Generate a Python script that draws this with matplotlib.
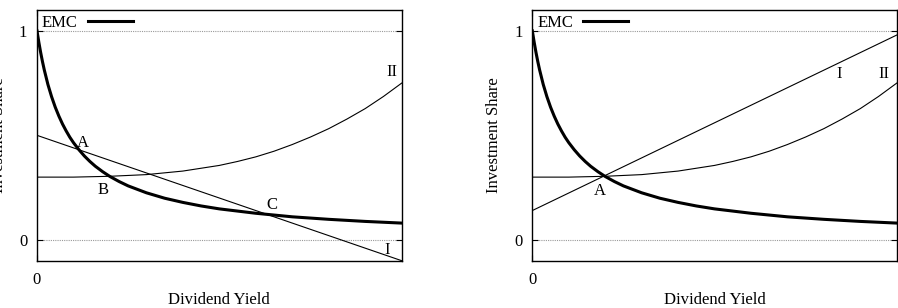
import numpy as np
import matplotlib
matplotlib.use("Agg")
import matplotlib.pyplot as plt

plt.rcParams['font.family'] = ['Liberation Serif', 'DejaVu Serif']
plt.rcParams['font.size'] = 12

# EMC curve
emc_x = [0, 0.005, 0.01, 0.015, 0.02, 0.03, 0.04, 0.05, 0.06, 0.07, 0.08, 0.09,
         0.1, 0.115, 0.13, 0.145, 0.16, 0.18, 0.2, 0.225, 0.25, 0.3, 0.35,
         0.4, 0.45, 0.5, 0.6, 0.7, 0.8, 0.9, 1.0]
emc_y = [1.0, 0.946, 0.897, 0.853, 0.813, 0.743, 0.685, 0.635, 0.592, 0.554,
         0.521, 0.491, 0.465, 0.431, 0.401, 0.375, 0.352, 0.326, 0.303, 0.279,
         0.258, 0.225, 0.199, 0.179, 0.162, 0.148, 0.127, 0.110, 0.098, 0.088,
         0.080]

# curve II (same in both panels)
ii_x = [0, 0.1, 0.2, 0.3, 0.4, 0.5, 0.55, 0.6, 0.65, 0.7, 0.75, 0.8, 0.85,
        0.9, 0.95, 1.0]
ii_y = [0.300, 0.300, 0.304, 0.312, 0.329, 0.356, 0.375, 0.397, 0.424, 0.456,
        0.492, 0.532, 0.578, 0.628, 0.686, 0.750]

# line I, left and right panel
i_left_x = [0, 1]
i_left_y = [0.50, -0.10]
i_right_x = [0, 1]
i_right_y = [0.14, 0.98]

# point labels: (text, x, y)
labels_left = [('A', 0.126, 0.464), ('B', 0.181, 0.239), ('C', 0.644, 0.167),
               ('I', 0.959, -0.048), ('II', 0.973, 0.804)]
labels_right = [('A', 0.186, 0.234), ('I', 0.841, 0.794), ('II', 0.965, 0.794)]

fig = plt.figure(figsize=(8.98, 3.08), dpi=100)
ax1 = fig.add_axes([0.0412, 0.1536, 0.4061, 0.8140])
ax2 = fig.add_axes([0.5928, 0.1536, 0.4058, 0.8140])

panels = [(ax1, i_left_x, i_left_y, labels_left),
          (ax2, i_right_x, i_right_y, labels_right)]

for ax, lx, ly, labs in panels:
    ax.plot(emc_x, emc_y, color='black', lw=2.2, label='EMC',
            solid_joinstyle='round')
    ax.plot(ii_x, ii_y, color='black', lw=0.8, solid_joinstyle='round')
    ax.plot(lx, ly, color='black', lw=0.8)
    for t, x, y in labs:
        ax.text(x, y, t, ha='center', va='center')

    ax.set_xlim(0, 1)
    ax.set_ylim(-0.1, 1.1)
    ax.set_xticks([0])
    ax.set_yticks([0, 1])
    ax.grid(axis='y', color='#999999', linestyle=(0, (1, 1)), lw=0.8)
    ax.tick_params(axis='y', direction='in', length=4, width=0.8, pad=7,
                   right=True)
    ax.tick_params(axis='x', direction='in', length=4, width=0.8, pad=8,
                   top=True)
    for s in ax.spines.values():
        s.set_linewidth(1.0)

    ax.set_xlabel('Dividend Yield')
    ax.set_ylabel('Investment Share')
    ax.xaxis.set_label_coords(0.5, -0.125)
    ax.yaxis.set_label_coords(-0.082, 0.5)

    ax.legend(loc='upper left', frameon=False, markerfirst=False,
              handlelength=2.7, handletextpad=0.6, borderaxespad=0.1,
              borderpad=0.2)

fig.savefig('out.png', dpi=100)
